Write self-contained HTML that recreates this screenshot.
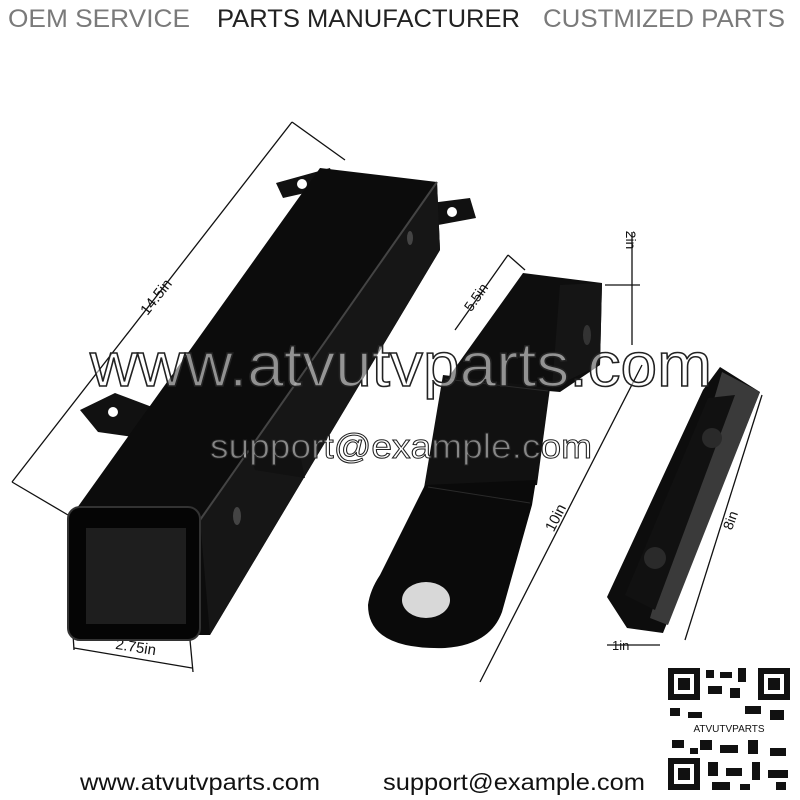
<!DOCTYPE html>
<html><head><meta charset="utf-8"><style>
html,body{margin:0;padding:0;background:#fff;width:800px;height:800px;overflow:hidden}
svg{display:block}
text{font-family:"Liberation Sans",sans-serif}
</style></head><body>
<svg width="800" height="800" viewBox="0 0 800 800">
<rect width="800" height="800" fill="#fff"/>
<!-- header -->
<text x="8" y="27" font-size="25" fill="#7a7a7a" textLength="182" lengthAdjust="spacingAndGlyphs">OEM SERVICE</text>
<text x="217" y="27" font-size="25" fill="#222" textLength="303" lengthAdjust="spacingAndGlyphs">PARTS MANUFACTURER</text>
<text x="543" y="27" font-size="25" fill="#7a7a7a" textLength="242" lengthAdjust="spacingAndGlyphs">CUSTMIZED PARTS</text>

<!-- dimension lines -->
<g stroke="#111" stroke-width="1.3" fill="none">
<line x1="12" y1="482" x2="292" y2="122"/>
<line x1="292" y1="122" x2="345" y2="160"/>
<line x1="12" y1="482" x2="68" y2="515"/>
<line x1="74" y1="648" x2="192" y2="668"/>
<line x1="72" y1="618" x2="74" y2="650"/><line x1="190" y1="640" x2="193" y2="672"/>
<line x1="455" y1="330" x2="508" y2="255"/>
<line x1="508" y1="255" x2="525" y2="270"/>
<line x1="632" y1="232" x2="632" y2="345"/>
<line x1="605" y1="285" x2="640" y2="285"/>
<line x1="642" y1="365" x2="480" y2="682"/>
<line x1="762" y1="395" x2="685" y2="640"/>
<line x1="607" y1="645" x2="660" y2="645"/>
</g>
<text transform="translate(160,300) rotate(-52)" font-size="15" fill="#111" text-anchor="middle">14.5in</text>
<text transform="translate(135,652) rotate(9)" font-size="15" fill="#111" text-anchor="middle">2.75in</text>
<text transform="translate(480,300) rotate(-55)" font-size="14" fill="#111" text-anchor="middle">5.5in</text>
<text transform="translate(626,240) rotate(90)" font-size="14" fill="#111" text-anchor="middle">2in</text>
<text transform="translate(560,520) rotate(-63)" font-size="15" fill="#111" text-anchor="middle">10in</text>
<text transform="translate(735,522) rotate(-70)" font-size="14" fill="#111" text-anchor="middle">8in</text>
<text x="612" y="650" font-size="13" fill="#111">1in</text>

<!-- left tube -->
<polygon points="276,183 330,168 336,186 283,198" fill="#111"/>
<circle cx="302" cy="184" r="5" fill="#fff"/>
<polygon points="415,205 470,198 476,218 422,228" fill="#111"/>
<circle cx="452" cy="212" r="5" fill="#fff"/>
<polygon points="80,410 115,393 160,410 155,440 98,432" fill="#111"/>
<circle cx="113" cy="412" r="5" fill="#fff"/>
<polygon points="72,515 320,168 437,182 440,250 210,635 80,635" fill="#0c0c0c"/>
<polygon points="200,520 437,182 440,250 210,635" fill="#161616"/>
<line x1="200" y1="520" x2="437" y2="182" stroke="#444" stroke-width="2"/>
<polygon points="245,440 300,455 305,478 255,470" fill="#111"/>
<ellipse cx="237" cy="516" rx="4" ry="9" fill="#444"/>
<ellipse cx="410" cy="238" rx="3" ry="7" fill="#444"/>
<rect x="68" y="507" width="132" height="133" rx="12" fill="#050505" stroke="#333" stroke-width="2"/>
<rect x="86" y="528" width="100" height="96" fill="#1e1e1e"/>

<!-- middle hitch -->
<polygon points="523,273 602,283 600,365 560,392 445,382" fill="#0e0e0e"/>
<polygon points="560,285 602,283 600,365 552,388" fill="#151515"/>
<ellipse cx="587" cy="335" rx="4" ry="10" fill="#333"/>
<polygon points="443,375 550,388 537,485 423,494" fill="#111"/>
<path d="M425,485 L536,480 L532,505 L502,612 Q490,645 445,648 Q368,650 368,605 Q370,590 380,575 Z" fill="#0a0a0a"/>
<line x1="445" y1="379" x2="548" y2="391" stroke="#2a2a2a" stroke-width="1"/>
<line x1="428" y1="487" x2="530" y2="503" stroke="#2a2a2a" stroke-width="1"/>
<ellipse cx="426" cy="600" rx="24" ry="18" fill="#d8d8d8"/>

<!-- right bar -->
<polygon points="607,597 703,390 720,367 760,392 663,633 627,628" fill="#0d0d0d"/>
<polygon points="722,372 760,392 668,625 650,618" fill="#3a3a3a"/>
<polygon points="625,595 708,398 735,395 655,610" fill="#111"/>
<circle cx="712" cy="438" r="10" fill="#2a2a2a"/>
<circle cx="655" cy="558" r="11" fill="#2a2a2a"/>

<!-- watermarks -->
<text x="90" y="386" font-size="62" fill="#fff" fill-opacity="0.55" stroke="#222" stroke-width="1.5" textLength="622" lengthAdjust="spacingAndGlyphs">www.atvutvparts.com</text>
<text x="210" y="458" font-size="34" fill="#fff" fill-opacity="0.5" stroke="#222" stroke-width="1" textLength="382" lengthAdjust="spacingAndGlyphs">support@example.com</text>

<!-- footer -->
<text x="80" y="790" font-size="23" fill="#111" textLength="240" lengthAdjust="spacingAndGlyphs">www.atvutvparts.com</text>
<text x="383" y="790" font-size="23" fill="#111" textLength="262" lengthAdjust="spacingAndGlyphs">support@example.com</text>

<!-- QR -->
<g fill="#111">
<rect x="668" y="668" width="122" height="122" fill="#fff"/>
<rect x="668" y="668" width="32" height="32"/><rect x="674" y="674" width="20" height="20" fill="#fff"/><rect x="678" y="678" width="12" height="12"/>
<rect x="758" y="668" width="32" height="32"/><rect x="764" y="674" width="20" height="20" fill="#fff"/><rect x="768" y="678" width="12" height="12"/>
<rect x="668" y="758" width="32" height="32"/><rect x="674" y="764" width="20" height="20" fill="#fff"/><rect x="678" y="768" width="12" height="12"/>
<rect x="706" y="670" width="8" height="8"/><rect x="720" y="672" width="12" height="6"/><rect x="738" y="668" width="8" height="14"/>
<rect x="708" y="686" width="14" height="8"/><rect x="730" y="688" width="10" height="10"/>
<rect x="670" y="708" width="10" height="8"/><rect x="688" y="712" width="14" height="6"/><rect x="745" y="706" width="16" height="8"/><rect x="770" y="710" width="14" height="10"/>
<rect x="700" y="740" width="12" height="10"/><rect x="720" y="745" width="18" height="8"/><rect x="748" y="740" width="10" height="14"/><rect x="770" y="748" width="16" height="8"/>
<rect x="708" y="762" width="10" height="14"/><rect x="726" y="768" width="16" height="8"/><rect x="752" y="762" width="8" height="18"/><rect x="768" y="770" width="20" height="8"/>
<rect x="712" y="782" width="18" height="8"/><rect x="740" y="784" width="10" height="6"/><rect x="776" y="782" width="10" height="8"/>
<rect x="672" y="740" width="12" height="8"/><rect x="690" y="748" width="8" height="6"/>
</g>
<rect x="670" y="722" width="118" height="12" fill="#fff"/>
<text x="729" y="732" font-size="10" fill="#111" text-anchor="middle" font-family="Liberation Serif,serif">ATVUTVPARTS</text>
</svg>
</body></html>
